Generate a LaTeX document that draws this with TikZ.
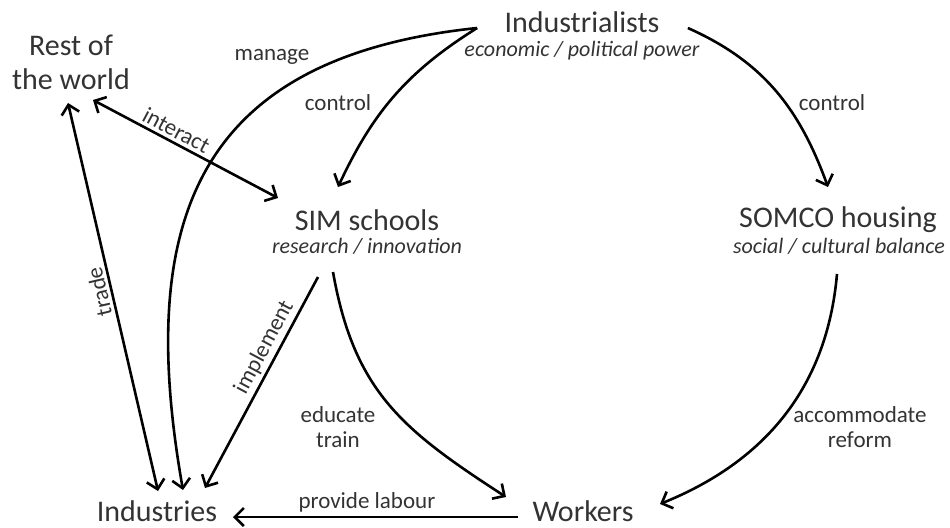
\documentclass[tikz,border=0pt]{standalone}
\usepackage{fontspec}
\setmainfont{Carlito}
\usetikzlibrary{calc}
\usetikzlibrary{arrows.meta}

\begin{document}
\begin{tikzpicture}[x=.5pt, y=.5pt,
 actor/.style={text=black!80, inner sep=0, font=\fontsize{15}{17}\selectfont, align=center},
 role/.style={text=black!80, inner sep=0, font=\fontsize{11}{13}\selectfont\itshape},
 verb/.style={text=black!80, inner sep=1.5pt, font=\fontsize{11.5}{12.5}\selectfont, align=center},
 link/.style={black, line width=1.3pt, -{Straight Barb[length=4.5pt,width=9pt]}},
 both/.style={black, line width=1.3pt, {Straight Barb[length=4.5pt,width=9pt]}-{Straight Barb[length=4.5pt,width=9pt]}}]
\useasboundingbox (0,0) rectangle (950,527);

\node[actor] (ind) at (582,505) {Industrialists};
\node[role] (indrole) at (582,476) {economic / political power};
\node[actor] (rest) at (71,465) {Rest of\\the world};
\node[actor] (sim) at (367,307) {SIM schools};
\node[role] (simrole) at (367,281) {research / innovation};
\node[actor] (somco) at (838,307) {SOMCO housing};
\node[role] (somcorole) at (839,281) {social / cultural balance};
\node[actor] (indus) at (157,16) {Industries};
\node[actor] (work) at (583,16) {Workers};

% from the industrialists
\draw[link] ($(ind.west)+(-27,-6)$) to[out=212,in=65] ($(sim)+(-29,33)$);
\draw[link] ($(ind.west)+(-27,-6)$) to[out=186,in=100,looseness=1.3] ($(indus)+(26,21)$);
\draw[link] ($(ind.east)+(28,-6)$) to[out=336,in=110] ($(somco)+(-10,33)$);
\node[verb] (lmanage) at (272,470) {manage};
\node[verb] (lcontrol) at (338,424) {control};
\node[verb] (lcontrolb) at (832,424) {control};

% straight links
\draw[both] ($(rest)+(22,-38)$) -- node[verb, sloped, above, pos=.42] (linteract) {interact} ($(sim)+(-89,22)$);
\draw[both] ($(indus)+(1,20)$) -- node[verb, sloped, allow upside down, above, pos=.52] (ltrade) {trade} ($(rest)+(-3,-41)$);
\draw[link] ($(sim)+(-49,-57)$) -- node[verb, sloped, above, pos=.365] (limpl) {implement} ($(indus)+(48,23)$);
\draw[link] ($(work)+(-65,-6)$) -- node[verb, above, pos=.53] (llabour) {provide labour} ($(indus)+(76,-6)$);

% down to the workers
\draw[link] ($(sim)+(-34,-52)$) to[out=280,in=147,looseness=1.1] ($(work)+(-77,14)$);
\draw[link] ($(somco)+(-1,-54)$) to[out=265,in=22] ($(work)+(77,7)$);
\node[verb] (leducate) at (338,100) {educate\\train};
\node[verb] (laccom) at (860,100) {accommodate\\reform};
\end{tikzpicture}
\end{document}
